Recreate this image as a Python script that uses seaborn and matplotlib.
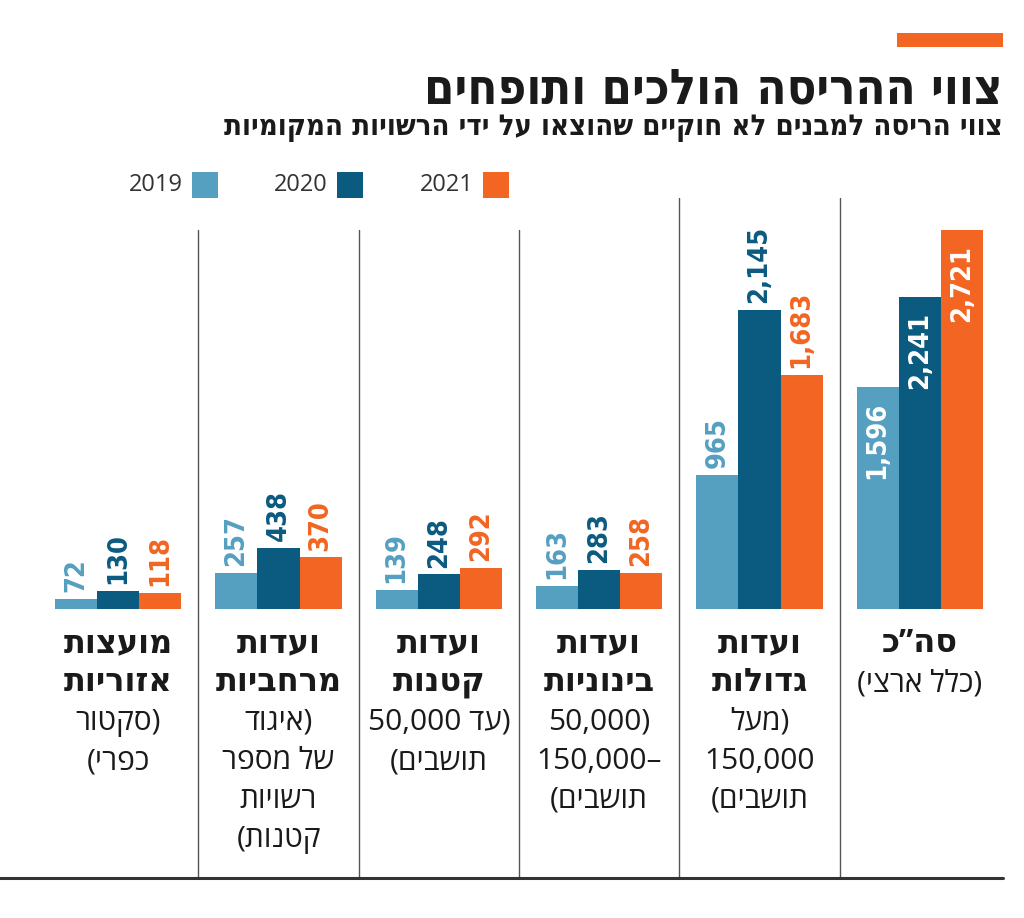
import re
import matplotlib
matplotlib.use("Agg")
import matplotlib.pyplot as plt
import matplotlib.transforms as mtransforms
from matplotlib.patches import Rectangle
import seaborn as sns
import pandas as pd

# data (left to right on the chart)
years = ["2019", "2020", "2021"]
groups = ["councils", "regional", "small", "medium", "large", "total"]
v2019 = [72, 257, 139, 163, 965, 1596]
v2020 = [130, 438, 248, 283, 2145, 2241]
v2021 = [118, 370, 292, 258, 1683, 2721]

bold_lines = [
    ["מועצות", "אזוריות"],
    ["ועדות", "מרחביות"],
    ["ועדות", "קטנות"],
    ["ועדות", "בינוניות"],
    ["ועדות", "גדולות"],
    ["סה”כ"],
]
light_lines = [
    ["(סקטור", "כפרי)"],
    ["(איגוד", "של מספר", "רשויות", "קטנות)"],
    ["(עד 50,000", "תושבים)"],
    ["(50,000", "–150,000", "תושבים)"],
    ["(מעל", "150,000", "תושבים)"],
    ["(כלל ארצי)"],
]
title = "צווי ההריסה הולכים ותופחים"
subtitle = "צווי הריסה למבנים לא חוקיים שהוצאו על ידי הרשויות המקומיות"

colors = ["#559fc1", "#0b5a80", "#f26522"]


def rtl(s):
    # matplotlib has no bidi: flip to visual order, keep numbers LTR, mirror parens
    r = s[::-1]
    r = re.sub(r"[0-9][0-9,.]*", lambda m: m.group(0)[::-1], r)
    return r.translate(str.maketrans("()", ")("))


sns.set_theme(style="white")
plt.rcParams["font.family"] = ["Open Sans", "DejaVu Sans"]

df = pd.DataFrame({
    "group": groups * 3,
    "year": [y for y in years for _ in groups],
    "value": v2019 + v2020 + v2021,
})

W, H = 1024, 918
fig = plt.figure(figsize=(W / 100, H / 100), dpi=100)
ax = fig.add_axes([38 / W, (H - 609) / H, 962 / W, 418 / H])

sns.barplot(data=df, x="group", y="value", hue="year", order=groups,
            hue_order=years, palette=dict(zip(years, colors)), width=0.79,
            saturation=1, linewidth=0, legend=False, ax=ax)
ax.set_xlim(-0.5, 5.5)
ax.set_ylim(0, 3000)
ax.axis("off")

numfont = ["DejaVu Sans"]
for h, cont in enumerate(ax.containers):
    for i, bar in enumerate(cont):
        x = bar.get_x() + bar.get_width() / 2
        val = bar.get_height()
        txt = f"{int(val):,}"
        if groups[i] == "total":
            ax.annotate(txt, (x, val), xytext=(0, -11), textcoords="offset points",
                        rotation=90, ha="center", va="top", color="white",
                        fontsize=19.5, fontweight="bold", fontstretch="condensed",
                        family=numfont)
        else:
            ax.annotate(txt, (x, val), xytext=(0, 5), textcoords="offset points",
                        rotation=90, ha="center", va="bottom", color=colors[h],
                        fontsize=19.5, fontweight="bold", fontstretch="condensed",
                        family=numfont)

# category labels under the bars
tr = mtransforms.blended_transform_factory(ax.transData, fig.transFigure)
for i in range(len(groups)):
    y = 652
    for line in bold_lines[i]:
        ax.text(i, (H - y) / H, rtl(line), transform=tr, ha="center",
                va="baseline", fontsize=23, fontweight="bold", color="#1a1a1a")
        y += 39
    for line in light_lines[i]:
        ax.text(i, (H - y) / H, rtl(line), transform=tr, ha="center",
                va="baseline", fontsize=21.5, color="#1a1a1a")
        y += 39

# separators
for k in range(len(groups) - 1):
    top = 198 if k >= 3 else 230
    ax.plot([k + 0.5, k + 0.5], [(H - 878) / H, (H - top) / H], transform=tr,
            color="#555555", lw=1, clip_on=False)
fig.add_artist(plt.Line2D([0, 1003 / W], [(H - 878) / H] * 2,
                          color="#333333", lw=2.2))

# header
fig.add_artist(Rectangle((897 / W, (H - 47) / H), 106 / W, 14 / H,
                         color=colors[2], lw=0))
fig.text(1003 / W, (H - 103) / H, rtl(title), ha="right", va="baseline",
         fontsize=35, fontweight="bold", fontstretch="condensed",
         color="#1a1a1a", family=["DejaVu Sans"])
fig.text(1003 / W, (H - 135) / H, rtl(subtitle), ha="right", va="baseline",
         fontsize=21, fontweight="bold", fontstretch="condensed",
         color="#1a1a1a", family=["DejaVu Sans"])

# legend
for yr, c, sx in zip(years, colors, [192, 337, 483]):
    fig.add_artist(Rectangle((sx / W, (H - 198) / H), 26 / W, 26 / H,
                             color=c, lw=0))
    fig.text((sx - 9) / W, (H - 185) / H, yr, ha="right", va="center",
             fontsize=17, color="#333333")

fig.savefig("out.png", dpi=100)
